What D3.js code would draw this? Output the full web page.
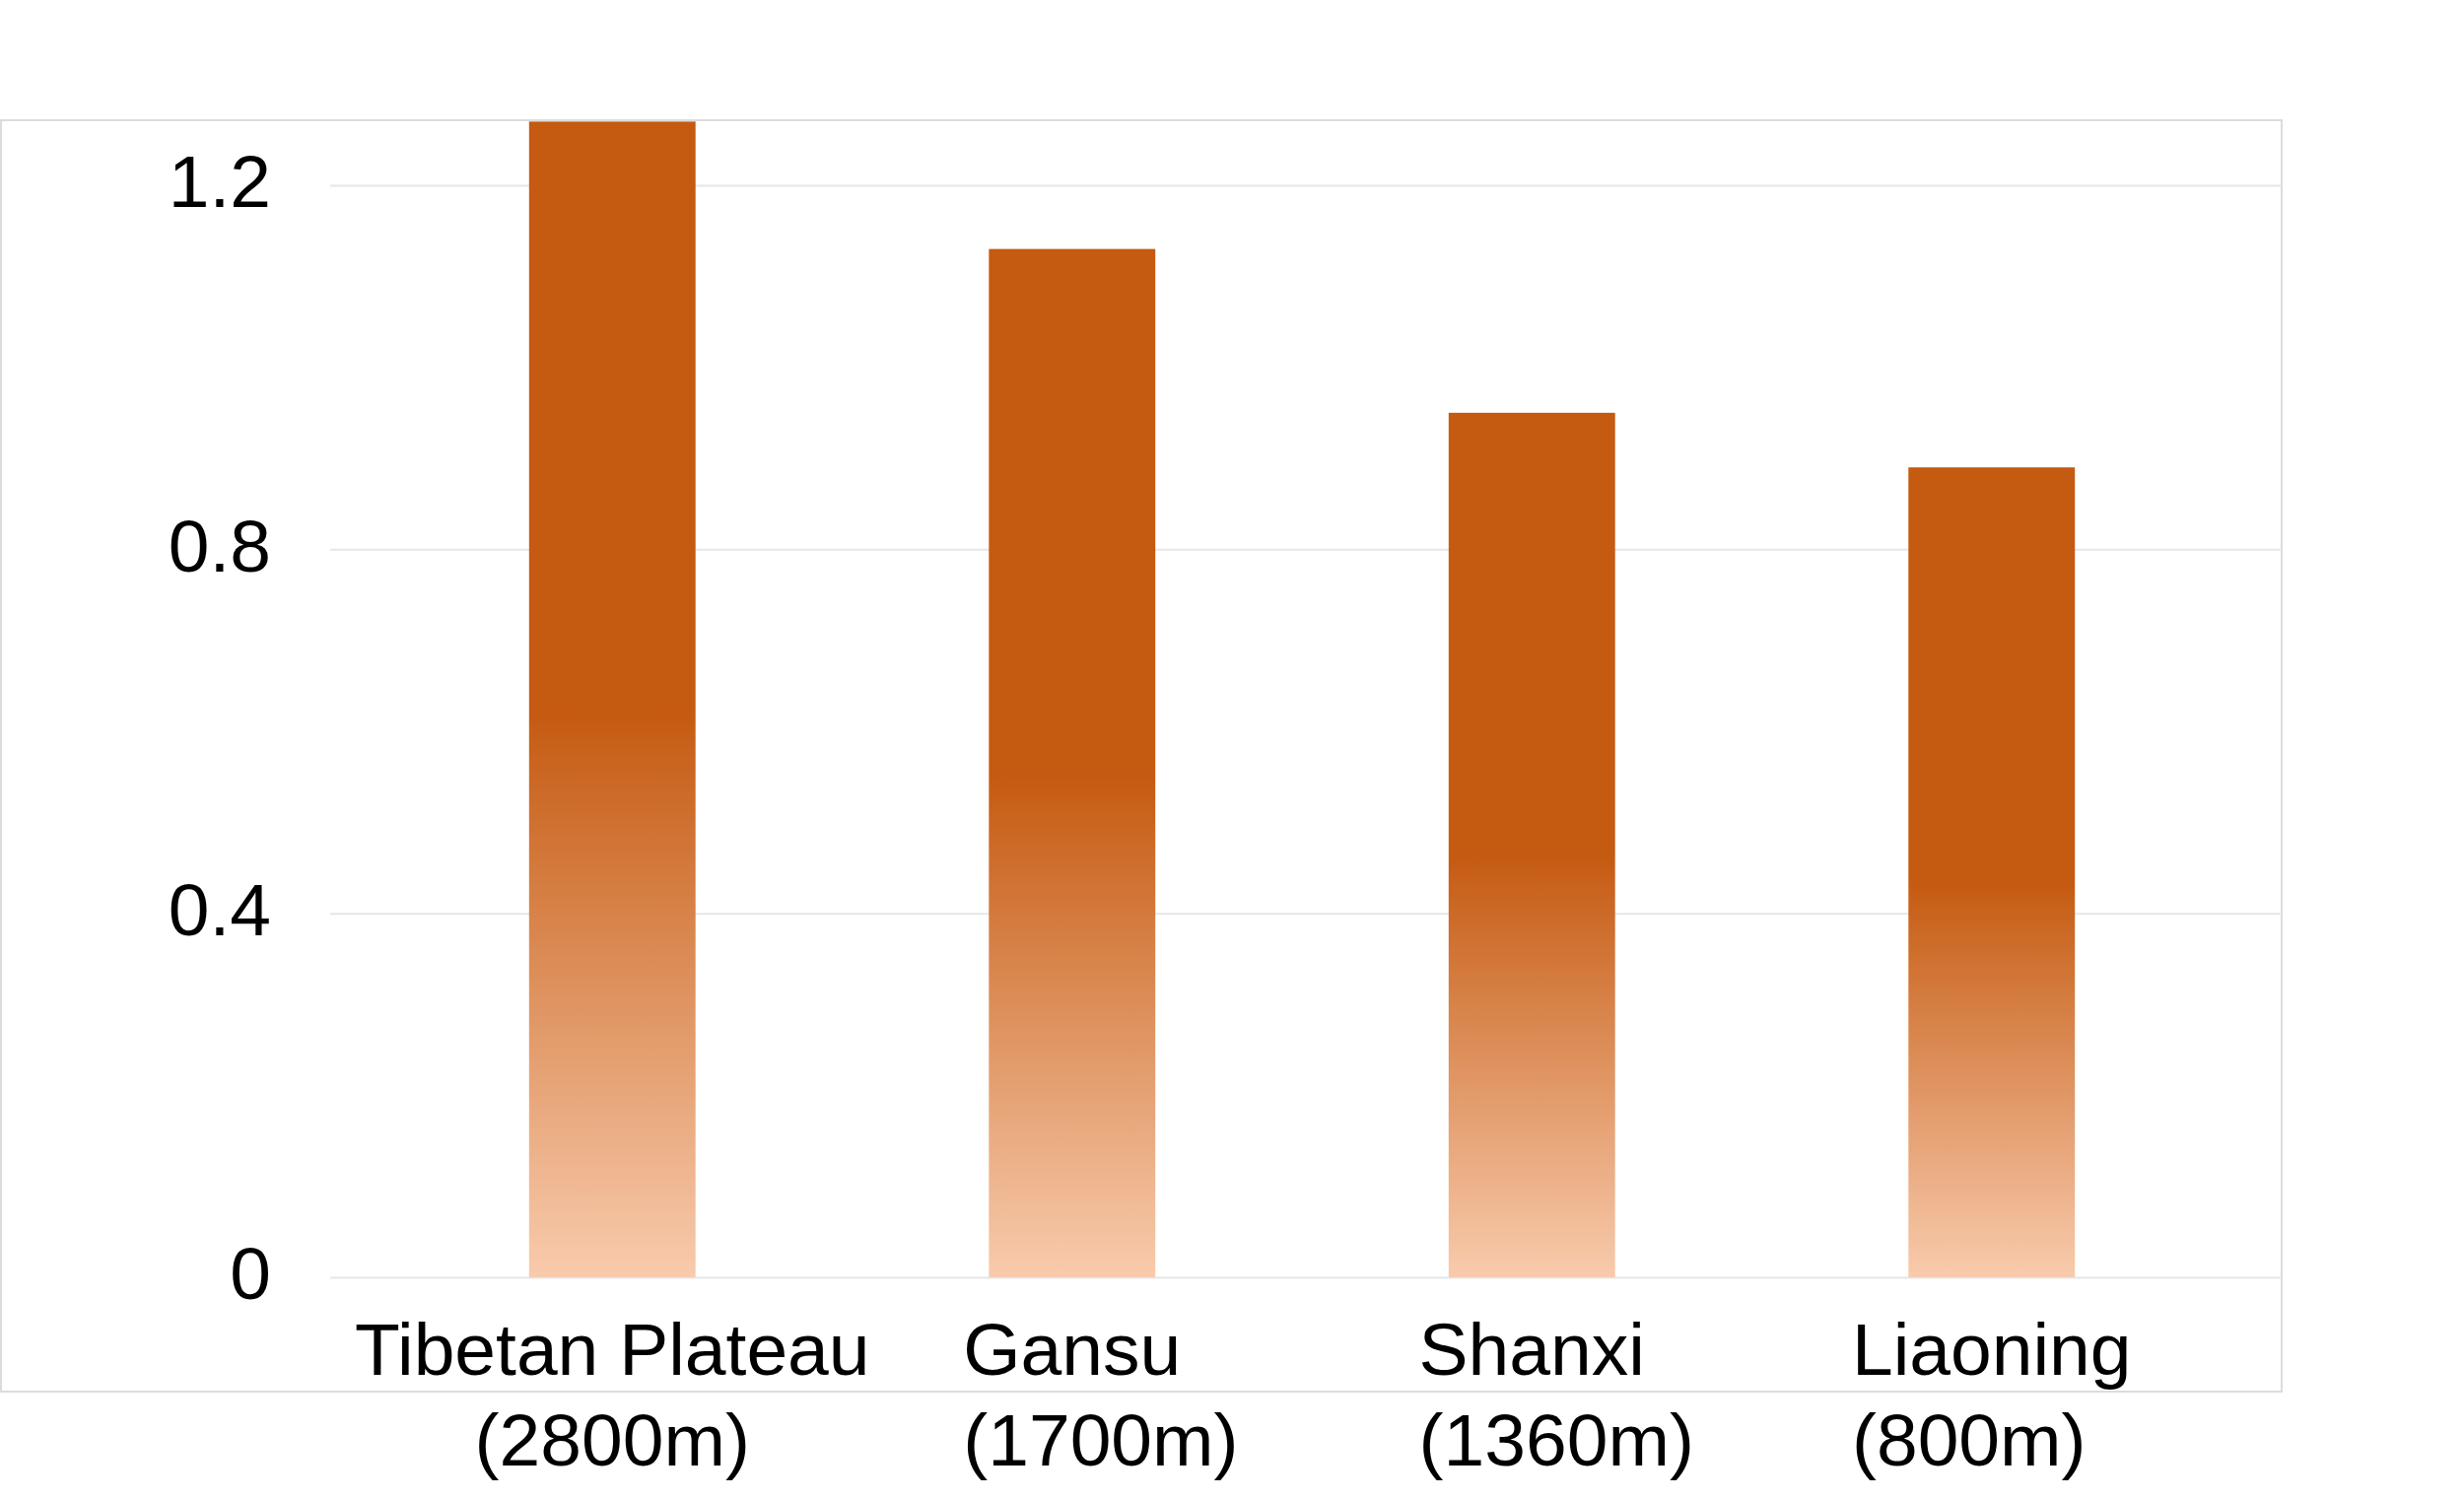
<!DOCTYPE html>
<html>
<head>
<meta charset="utf-8">
<script src="https://cdn.jsdelivr.net/npm/d3@7"></script>
<style>
  body { margin: 0; background: #fff; }
  text { font-family: "Liberation Sans", Arial, sans-serif; fill: #000; }
</style>
</head>
<body>
<div id="chart"></div>
<script>
// data
var regions = ["Tibetan Plateau", "Gansu", "Shanxi", "Liaoning"];
var elevations = ["(2800m)", "(1700m)", "(1360m)", "(800m)"];
var values = [1.27, 1.13, 0.95, 0.89];
var yTicks = [0, 0.4, 0.8, 1.2];

var W = 2500, H = 1522;
var frame = { left: 1, top: 122, right: 2315, bottom: 1412 };
var plot = { left: 335, right: 2315, top: 188, bottom: 1296 };

var svg = d3.select("#chart")
    .append("svg")
    .attr("width", W)
    .attr("height", H);

// Set the ranges
var x = d3.scaleBand()
    .domain(regions)
    .range([388, 2254])
    .paddingInner(0.638)
    .paddingOuter(0.319);
var y = d3.scaleLinear().domain([0, 1.2]).range([plot.bottom, plot.top]);

// gradient: pale at the bottom, full orange from mid height up
var grad = svg.append("defs").append("linearGradient")
    .attr("id", "barGrad")
    .attr("x1", 0).attr("y1", 1)
    .attr("x2", 0).attr("y2", 0);
grad.append("stop").attr("offset", "0%").attr("stop-color", "#f8cbad");
grad.append("stop").attr("offset", "49%").attr("stop-color", "#c55a11");
grad.append("stop").attr("offset", "100%").attr("stop-color", "#c55a11");

svg.append("clipPath").attr("id", "plotClip")
    .append("rect")
    .attr("x", frame.left).attr("y", frame.top)
    .attr("width", frame.right - frame.left)
    .attr("height", frame.bottom - frame.top);

// outer frame
svg.append("rect")
    .attr("x", frame.left).attr("y", frame.top)
    .attr("width", frame.right - frame.left)
    .attr("height", frame.bottom - frame.top)
    .attr("fill", "none")
    .attr("stroke", "#dcdcdc")
    .attr("stroke-width", 2);

// gridlines + y labels
var yAxis = svg.append("g")
    .attr("transform", "translate(" + plot.left + ",0)")
    .call(d3.axisLeft(y)
        .tickValues(yTicks)
        .tickSize(-(plot.right - plot.left))
        .tickPadding(60)
        .tickFormat(function (d) { return d === 0 ? "0" : d3.format(".1f")(d); }));
yAxis.select(".domain").remove();
yAxis.selectAll(".tick line")
    .attr("stroke", "#e6e6e6")
    .attr("stroke-width", 2);
yAxis.selectAll(".tick text")
    .attr("font-size", 75)
    .attr("font-family", "'Liberation Sans', Arial, sans-serif")
    .attr("dy", "0.29em");

// bars
svg.append("g")
    .attr("clip-path", "url(#plotClip)")
    .selectAll("rect")
    .data(values)
    .enter().append("rect")
    .attr("x", function (d, i) { return x(regions[i]); })
    .attr("y", function (d) { return y(d); })
    .attr("width", x.bandwidth())
    .attr("height", function (d) { return y(0) - y(d); })
    .attr("fill", "url(#barGrad)");

// category labels, two lines each
var labels = svg.append("g")
    .selectAll("g")
    .data(regions)
    .enter().append("g");

labels.each(function (name, i) {
    var g = d3.select(this);
    var cx = x(name) + x.bandwidth() / 2;
    var l1 = g.append("text")
        .attr("x", cx)
        .attr("y", 1395)
        .attr("text-anchor", "middle")
        .attr("font-size", 75)
        .text(name);
    var l2 = g.append("text")
        .attr("y", 1487)
        .attr("font-size", 75)
        .text(elevations[i]);
    var w1 = l1.node().getComputedTextLength();
    var w2 = l2.node().getComputedTextLength();
    // second line sits under the start of the first, unless it is far shorter
    if (w1 - w2 > 100) {
        l2.attr("x", cx).attr("text-anchor", "middle");
    } else {
        l2.attr("x", cx - w1 / 2).attr("text-anchor", "start");
    }
});
</script>
</body>
</html>
